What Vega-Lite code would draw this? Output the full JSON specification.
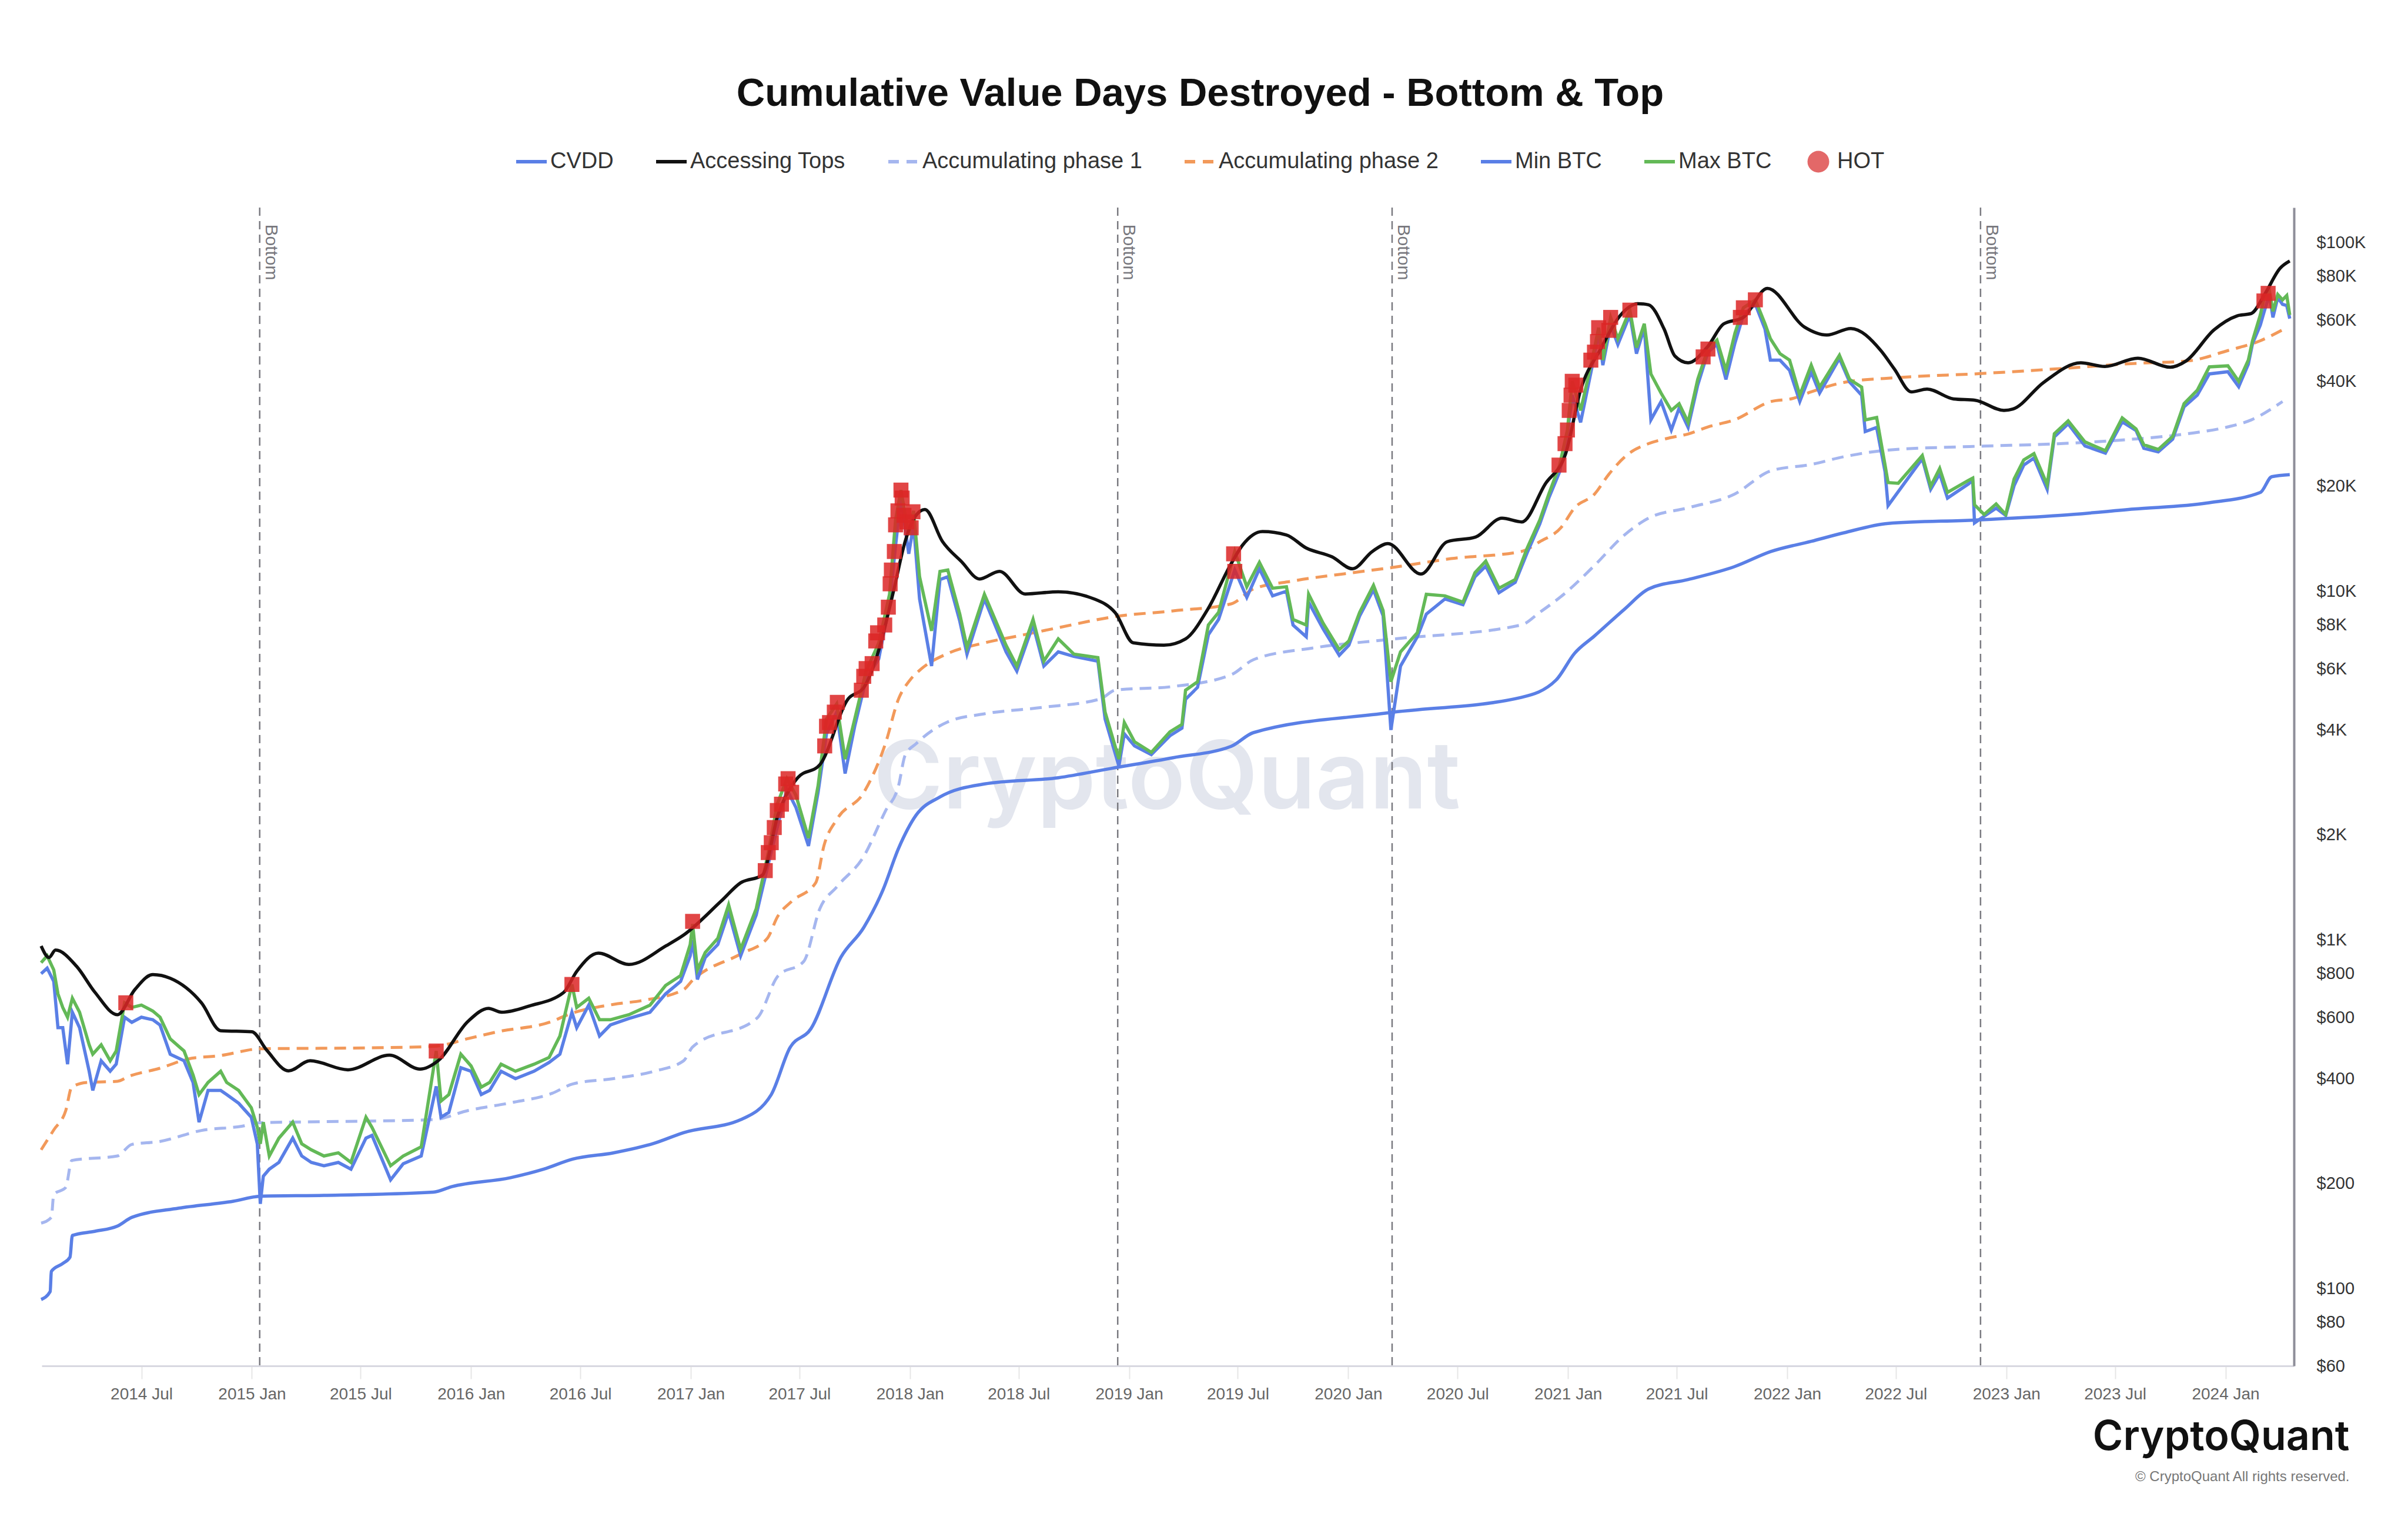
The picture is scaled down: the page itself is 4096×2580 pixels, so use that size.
{
  "$schema": "https://vega.github.io/schema/vega-lite/v6.json",
  "width": 3831,
  "height": 1970,
  "autosize": {"type": "none"},
  "padding": {"left": 71, "top": 353, "right": 194, "bottom": 257},
  "background": "white",
  "title": {
    "text": "Cumulative Value Days Destroyed - Bottom & Top",
    "fontSize": 67,
    "fontWeight": "bold",
    "color": "#111111",
    "anchor": "middle",
    "frame": "bounds",
    "offset": 62
  },
  "datasets": {
    "lines": [
      {"series": "CVDD", "date": "2014-01-15", "value": 93},
      {"series": "CVDD", "date": "2014-01-30", "value": 98},
      {"series": "CVDD", "date": "2014-02-01", "value": 112},
      {"series": "CVDD", "date": "2014-02-20", "value": 118},
      {"series": "CVDD", "date": "2014-03-04", "value": 123},
      {"series": "CVDD", "date": "2014-03-08", "value": 142},
      {"series": "CVDD", "date": "2014-04-15", "value": 146},
      {"series": "CVDD", "date": "2014-05-22", "value": 151},
      {"series": "CVDD", "date": "2014-06-15", "value": 160},
      {"series": "CVDD", "date": "2014-09-01", "value": 170},
      {"series": "CVDD", "date": "2014-12-01", "value": 178},
      {"series": "CVDD", "date": "2015-01-15", "value": 184},
      {"series": "CVDD", "date": "2015-05-01", "value": 185},
      {"series": "CVDD", "date": "2015-10-30", "value": 189},
      {"series": "CVDD", "date": "2015-11-30", "value": 196},
      {"series": "CVDD", "date": "2016-03-07", "value": 208},
      {"series": "CVDD", "date": "2016-05-01", "value": 220},
      {"series": "CVDD", "date": "2016-06-18", "value": 235},
      {"series": "CVDD", "date": "2016-08-25", "value": 245},
      {"series": "CVDD", "date": "2016-11-01", "value": 261},
      {"series": "CVDD", "date": "2016-12-20", "value": 280},
      {"series": "CVDD", "date": "2017-03-25", "value": 305},
      {"series": "CVDD", "date": "2017-05-15", "value": 360},
      {"series": "CVDD", "date": "2017-06-15", "value": 490},
      {"series": "CVDD", "date": "2017-07-20", "value": 556},
      {"series": "CVDD", "date": "2017-09-08", "value": 892},
      {"series": "CVDD", "date": "2017-10-16", "value": 1085},
      {"series": "CVDD", "date": "2017-11-17", "value": 1390},
      {"series": "CVDD", "date": "2017-12-13", "value": 1830},
      {"series": "CVDD", "date": "2018-01-11", "value": 2276},
      {"series": "CVDD", "date": "2018-02-20", "value": 2570},
      {"series": "CVDD", "date": "2018-05-05", "value": 2800},
      {"series": "CVDD", "date": "2018-09-05", "value": 2918},
      {"series": "CVDD", "date": "2018-12-01", "value": 3100},
      {"series": "CVDD", "date": "2019-03-15", "value": 3330},
      {"series": "CVDD", "date": "2019-06-20", "value": 3590},
      {"series": "CVDD", "date": "2019-07-27", "value": 3930},
      {"series": "CVDD", "date": "2020-03-08", "value": 4480},
      {"series": "CVDD", "date": "2020-10-15", "value": 4960},
      {"series": "CVDD", "date": "2020-12-12", "value": 5560},
      {"series": "CVDD", "date": "2021-01-12", "value": 6640},
      {"series": "CVDD", "date": "2021-02-14", "value": 7440},
      {"series": "CVDD", "date": "2021-04-05", "value": 8880},
      {"series": "CVDD", "date": "2021-05-15", "value": 10150},
      {"series": "CVDD", "date": "2021-07-20", "value": 10800},
      {"series": "CVDD", "date": "2021-10-05", "value": 11760},
      {"series": "CVDD", "date": "2021-12-05", "value": 13000},
      {"series": "CVDD", "date": "2022-02-10", "value": 13900},
      {"series": "CVDD", "date": "2022-04-05", "value": 14700},
      {"series": "CVDD", "date": "2022-06-18", "value": 15650},
      {"series": "CVDD", "date": "2022-11-10", "value": 16000},
      {"series": "CVDD", "date": "2023-04-01", "value": 16500},
      {"series": "CVDD", "date": "2023-08-01", "value": 17200},
      {"series": "CVDD", "date": "2023-12-01", "value": 17900},
      {"series": "CVDD", "date": "2024-02-28", "value": 19200},
      {"series": "CVDD", "date": "2024-03-18", "value": 21300},
      {"series": "CVDD", "date": "2024-04-17", "value": 21600},

      {"series": "Accessing Tops", "date": "2014-01-15", "value": 960},
      {"series": "Accessing Tops", "date": "2014-01-28", "value": 890},
      {"series": "Accessing Tops", "date": "2014-02-08", "value": 935},
      {"series": "Accessing Tops", "date": "2014-03-15", "value": 840},
      {"series": "Accessing Tops", "date": "2014-04-15", "value": 706},
      {"series": "Accessing Tops", "date": "2014-05-22", "value": 610},
      {"series": "Accessing Tops", "date": "2014-06-20", "value": 720},
      {"series": "Accessing Tops", "date": "2014-07-20", "value": 795},
      {"series": "Accessing Tops", "date": "2014-08-18", "value": 776},
      {"series": "Accessing Tops", "date": "2014-10-09", "value": 660},
      {"series": "Accessing Tops", "date": "2014-11-10", "value": 549},
      {"series": "Accessing Tops", "date": "2015-01-01", "value": 545},
      {"series": "Accessing Tops", "date": "2015-01-26", "value": 482},
      {"series": "Accessing Tops", "date": "2015-03-03", "value": 421},
      {"series": "Accessing Tops", "date": "2015-04-08", "value": 450},
      {"series": "Accessing Tops", "date": "2015-06-10", "value": 424},
      {"series": "Accessing Tops", "date": "2015-08-18", "value": 467},
      {"series": "Accessing Tops", "date": "2015-10-08", "value": 426},
      {"series": "Accessing Tops", "date": "2015-11-07", "value": 450},
      {"series": "Accessing Tops", "date": "2015-12-27", "value": 584},
      {"series": "Accessing Tops", "date": "2016-01-30", "value": 636},
      {"series": "Accessing Tops", "date": "2016-02-21", "value": 620},
      {"series": "Accessing Tops", "date": "2016-04-08", "value": 647},
      {"series": "Accessing Tops", "date": "2016-06-03", "value": 706},
      {"series": "Accessing Tops", "date": "2016-06-25", "value": 812},
      {"series": "Accessing Tops", "date": "2016-07-31", "value": 916},
      {"series": "Accessing Tops", "date": "2016-09-20", "value": 850},
      {"series": "Accessing Tops", "date": "2016-11-21", "value": 962},
      {"series": "Accessing Tops", "date": "2016-12-20", "value": 1032},
      {"series": "Accessing Tops", "date": "2017-02-20", "value": 1289},
      {"series": "Accessing Tops", "date": "2017-03-25", "value": 1458},
      {"series": "Accessing Tops", "date": "2017-04-30", "value": 1532},
      {"series": "Accessing Tops", "date": "2017-05-26", "value": 2276},
      {"series": "Accessing Tops", "date": "2017-06-28", "value": 2918},
      {"series": "Accessing Tops", "date": "2017-08-04", "value": 3180},
      {"series": "Accessing Tops", "date": "2017-09-20", "value": 4910},
      {"series": "Accessing Tops", "date": "2017-10-16", "value": 5290},
      {"series": "Accessing Tops", "date": "2017-11-10", "value": 6780},
      {"series": "Accessing Tops", "date": "2017-12-05", "value": 10070},
      {"series": "Accessing Tops", "date": "2017-12-24", "value": 13900},
      {"series": "Accessing Tops", "date": "2018-01-11", "value": 16500},
      {"series": "Accessing Tops", "date": "2018-01-26", "value": 17150},
      {"series": "Accessing Tops", "date": "2018-02-24", "value": 13900},
      {"series": "Accessing Tops", "date": "2018-03-28", "value": 12150},
      {"series": "Accessing Tops", "date": "2018-04-27", "value": 10840},
      {"series": "Accessing Tops", "date": "2018-05-30", "value": 11400},
      {"series": "Accessing Tops", "date": "2018-07-12", "value": 9820},
      {"series": "Accessing Tops", "date": "2018-09-05", "value": 9960},
      {"series": "Accessing Tops", "date": "2018-11-06", "value": 9470},
      {"series": "Accessing Tops", "date": "2018-12-09", "value": 8670},
      {"series": "Accessing Tops", "date": "2019-01-08", "value": 7110},
      {"series": "Accessing Tops", "date": "2019-02-28", "value": 7000},
      {"series": "Accessing Tops", "date": "2019-04-05", "value": 7300},
      {"series": "Accessing Tops", "date": "2019-05-12", "value": 8880},
      {"series": "Accessing Tops", "date": "2019-06-20", "value": 12000},
      {"series": "Accessing Tops", "date": "2019-07-09", "value": 13560},
      {"series": "Accessing Tops", "date": "2019-08-11", "value": 14830},
      {"series": "Accessing Tops", "date": "2019-09-20", "value": 14500},
      {"series": "Accessing Tops", "date": "2019-10-23", "value": 13300},
      {"series": "Accessing Tops", "date": "2019-12-05", "value": 12550},
      {"series": "Accessing Tops", "date": "2020-01-08", "value": 11600},
      {"series": "Accessing Tops", "date": "2020-02-10", "value": 13000},
      {"series": "Accessing Tops", "date": "2020-03-07", "value": 13700},
      {"series": "Accessing Tops", "date": "2020-05-01", "value": 11200},
      {"series": "Accessing Tops", "date": "2020-06-14", "value": 13870},
      {"series": "Accessing Tops", "date": "2020-07-31", "value": 14300},
      {"series": "Accessing Tops", "date": "2020-09-13", "value": 16200},
      {"series": "Accessing Tops", "date": "2020-10-16", "value": 15800},
      {"series": "Accessing Tops", "date": "2020-11-24", "value": 20300},
      {"series": "Accessing Tops", "date": "2020-12-28", "value": 24800},
      {"series": "Accessing Tops", "date": "2021-01-22", "value": 37800},
      {"series": "Accessing Tops", "date": "2021-02-24", "value": 49400},
      {"series": "Accessing Tops", "date": "2021-03-29", "value": 61800},
      {"series": "Accessing Tops", "date": "2021-04-27", "value": 66800},
      {"series": "Accessing Tops", "date": "2021-05-15", "value": 66300},
      {"series": "Accessing Tops", "date": "2021-06-10", "value": 56500},
      {"series": "Accessing Tops", "date": "2021-06-28", "value": 47260},
      {"series": "Accessing Tops", "date": "2021-07-20", "value": 45200},
      {"series": "Accessing Tops", "date": "2021-08-22", "value": 50400},
      {"series": "Accessing Tops", "date": "2021-09-17", "value": 58400},
      {"series": "Accessing Tops", "date": "2021-10-20", "value": 61000},
      {"series": "Accessing Tops", "date": "2021-11-29", "value": 73900},
      {"series": "Accessing Tops", "date": "2022-01-30", "value": 57200},
      {"series": "Accessing Tops", "date": "2022-03-08", "value": 54300},
      {"series": "Accessing Tops", "date": "2022-04-17", "value": 56700},
      {"series": "Accessing Tops", "date": "2022-06-06", "value": 49000},
      {"series": "Accessing Tops", "date": "2022-06-28", "value": 43500},
      {"series": "Accessing Tops", "date": "2022-07-27", "value": 37300},
      {"series": "Accessing Tops", "date": "2022-08-22", "value": 38000},
      {"series": "Accessing Tops", "date": "2022-10-05", "value": 35600},
      {"series": "Accessing Tops", "date": "2022-11-10", "value": 35300},
      {"series": "Accessing Tops", "date": "2022-12-28", "value": 33000},
      {"series": "Accessing Tops", "date": "2023-01-12", "value": 33300},
      {"series": "Accessing Tops", "date": "2023-03-04", "value": 39700},
      {"series": "Accessing Tops", "date": "2023-05-05", "value": 45200},
      {"series": "Accessing Tops", "date": "2023-06-14", "value": 44100},
      {"series": "Accessing Tops", "date": "2023-08-08", "value": 46600},
      {"series": "Accessing Tops", "date": "2023-10-01", "value": 43900},
      {"series": "Accessing Tops", "date": "2023-10-27", "value": 45700},
      {"series": "Accessing Tops", "date": "2023-12-13", "value": 56200},
      {"series": "Accessing Tops", "date": "2024-01-20", "value": 61600},
      {"series": "Accessing Tops", "date": "2024-02-13", "value": 62600},
      {"series": "Accessing Tops", "date": "2024-03-07", "value": 71400},
      {"series": "Accessing Tops", "date": "2024-04-01", "value": 84400},
      {"series": "Accessing Tops", "date": "2024-04-17", "value": 88500},

      {"series": "Accumulating phase 1", "date": "2014-01-15", "value": 154},
      {"series": "Accumulating phase 1", "date": "2014-02-01", "value": 160},
      {"series": "Accumulating phase 1", "date": "2014-02-05", "value": 186},
      {"series": "Accumulating phase 1", "date": "2014-02-25", "value": 195},
      {"series": "Accumulating phase 1", "date": "2014-03-07", "value": 233},
      {"series": "Accumulating phase 1", "date": "2014-05-22", "value": 240},
      {"series": "Accumulating phase 1", "date": "2014-06-15", "value": 259},
      {"series": "Accumulating phase 1", "date": "2014-07-31", "value": 264},
      {"series": "Accumulating phase 1", "date": "2014-10-09", "value": 284},
      {"series": "Accumulating phase 1", "date": "2014-12-15", "value": 292},
      {"series": "Accumulating phase 1", "date": "2015-01-15", "value": 299},
      {"series": "Accumulating phase 1", "date": "2015-05-01", "value": 301},
      {"series": "Accumulating phase 1", "date": "2015-10-30", "value": 305},
      {"series": "Accumulating phase 1", "date": "2015-12-27", "value": 324},
      {"series": "Accumulating phase 1", "date": "2016-03-07", "value": 341},
      {"series": "Accumulating phase 1", "date": "2016-05-15", "value": 363},
      {"series": "Accumulating phase 1", "date": "2016-06-18", "value": 386},
      {"series": "Accumulating phase 1", "date": "2016-08-25", "value": 400},
      {"series": "Accumulating phase 1", "date": "2016-11-01", "value": 420},
      {"series": "Accumulating phase 1", "date": "2016-12-20", "value": 450},
      {"series": "Accumulating phase 1", "date": "2017-01-04", "value": 493},
      {"series": "Accumulating phase 1", "date": "2017-04-22", "value": 598},
      {"series": "Accumulating phase 1", "date": "2017-05-26", "value": 787},
      {"series": "Accumulating phase 1", "date": "2017-07-08", "value": 867},
      {"series": "Accumulating phase 1", "date": "2017-08-04", "value": 1230},
      {"series": "Accumulating phase 1", "date": "2017-09-02", "value": 1425},
      {"series": "Accumulating phase 1", "date": "2017-10-16", "value": 1736},
      {"series": "Accumulating phase 1", "date": "2017-11-21", "value": 2340},
      {"series": "Accumulating phase 1", "date": "2017-12-13", "value": 2770},
      {"series": "Accumulating phase 1", "date": "2017-12-24", "value": 3385},
      {"series": "Accumulating phase 1", "date": "2018-01-11", "value": 3650},
      {"series": "Accumulating phase 1", "date": "2018-03-05", "value": 4220},
      {"series": "Accumulating phase 1", "date": "2018-05-05", "value": 4450},
      {"series": "Accumulating phase 1", "date": "2018-08-08", "value": 4640},
      {"series": "Accumulating phase 1", "date": "2018-11-14", "value": 4910},
      {"series": "Accumulating phase 1", "date": "2018-12-09", "value": 5200},
      {"series": "Accumulating phase 1", "date": "2019-03-15", "value": 5330},
      {"series": "Accumulating phase 1", "date": "2019-06-20", "value": 5760},
      {"series": "Accumulating phase 1", "date": "2019-07-27", "value": 6360},
      {"series": "Accumulating phase 1", "date": "2019-11-02", "value": 6870},
      {"series": "Accumulating phase 1", "date": "2020-03-08", "value": 7270},
      {"series": "Accumulating phase 1", "date": "2020-10-15", "value": 8000},
      {"series": "Accumulating phase 1", "date": "2020-11-15", "value": 8700},
      {"series": "Accumulating phase 1", "date": "2020-12-28", "value": 9900},
      {"series": "Accumulating phase 1", "date": "2021-02-14", "value": 11850},
      {"series": "Accumulating phase 1", "date": "2021-04-05", "value": 14500},
      {"series": "Accumulating phase 1", "date": "2021-05-15", "value": 16200},
      {"series": "Accumulating phase 1", "date": "2021-07-20", "value": 17350},
      {"series": "Accumulating phase 1", "date": "2021-10-05", "value": 18980},
      {"series": "Accumulating phase 1", "date": "2021-12-05", "value": 22150},
      {"series": "Accumulating phase 1", "date": "2022-02-10", "value": 23100},
      {"series": "Accumulating phase 1", "date": "2022-04-05", "value": 24300},
      {"series": "Accumulating phase 1", "date": "2022-06-18", "value": 25400},
      {"series": "Accumulating phase 1", "date": "2022-11-01", "value": 26000},
      {"series": "Accumulating phase 1", "date": "2023-04-01", "value": 26500},
      {"series": "Accumulating phase 1", "date": "2023-08-01", "value": 27300},
      {"series": "Accumulating phase 1", "date": "2023-10-30", "value": 28300},
      {"series": "Accumulating phase 1", "date": "2024-01-05", "value": 29600},
      {"series": "Accumulating phase 1", "date": "2024-02-13", "value": 31000},
      {"series": "Accumulating phase 1", "date": "2024-04-05", "value": 35000},

      {"series": "Accumulating phase 2", "date": "2014-01-15", "value": 250},
      {"series": "Accumulating phase 2", "date": "2014-02-05", "value": 285},
      {"series": "Accumulating phase 2", "date": "2014-02-25", "value": 324},
      {"series": "Accumulating phase 2", "date": "2014-03-07", "value": 378},
      {"series": "Accumulating phase 2", "date": "2014-04-01", "value": 390},
      {"series": "Accumulating phase 2", "date": "2014-05-22", "value": 393},
      {"series": "Accumulating phase 2", "date": "2014-06-10", "value": 406},
      {"series": "Accumulating phase 2", "date": "2014-07-31", "value": 428},
      {"series": "Accumulating phase 2", "date": "2014-09-16", "value": 455},
      {"series": "Accumulating phase 2", "date": "2014-11-10", "value": 466},
      {"series": "Accumulating phase 2", "date": "2015-01-15", "value": 487},
      {"series": "Accumulating phase 2", "date": "2015-07-08", "value": 490},
      {"series": "Accumulating phase 2", "date": "2015-11-01", "value": 495},
      {"series": "Accumulating phase 2", "date": "2015-12-27", "value": 521},
      {"series": "Accumulating phase 2", "date": "2016-02-14", "value": 545},
      {"series": "Accumulating phase 2", "date": "2016-05-15", "value": 584},
      {"series": "Accumulating phase 2", "date": "2016-06-10", "value": 610},
      {"series": "Accumulating phase 2", "date": "2016-08-25", "value": 653},
      {"series": "Accumulating phase 2", "date": "2016-10-12", "value": 670},
      {"series": "Accumulating phase 2", "date": "2016-12-20", "value": 720},
      {"series": "Accumulating phase 2", "date": "2017-01-04", "value": 766},
      {"series": "Accumulating phase 2", "date": "2017-03-25", "value": 911},
      {"series": "Accumulating phase 2", "date": "2017-05-08", "value": 1008},
      {"series": "Accumulating phase 2", "date": "2017-05-26", "value": 1170},
      {"series": "Accumulating phase 2", "date": "2017-06-18", "value": 1290},
      {"series": "Accumulating phase 2", "date": "2017-07-28", "value": 1458},
      {"series": "Accumulating phase 2", "date": "2017-08-11", "value": 1869},
      {"series": "Accumulating phase 2", "date": "2017-09-02", "value": 2226},
      {"series": "Accumulating phase 2", "date": "2017-10-16", "value": 2645},
      {"series": "Accumulating phase 2", "date": "2017-11-21", "value": 3650},
      {"series": "Accumulating phase 2", "date": "2017-12-13", "value": 4910},
      {"series": "Accumulating phase 2", "date": "2018-01-01", "value": 5560},
      {"series": "Accumulating phase 2", "date": "2018-01-20", "value": 5990},
      {"series": "Accumulating phase 2", "date": "2018-03-05", "value": 6630},
      {"series": "Accumulating phase 2", "date": "2018-05-05", "value": 7110},
      {"series": "Accumulating phase 2", "date": "2018-07-05", "value": 7470},
      {"series": "Accumulating phase 2", "date": "2018-09-05", "value": 7860},
      {"series": "Accumulating phase 2", "date": "2018-12-09", "value": 8460},
      {"series": "Accumulating phase 2", "date": "2019-03-15", "value": 8780},
      {"series": "Accumulating phase 2", "date": "2019-06-20", "value": 9200},
      {"series": "Accumulating phase 2", "date": "2019-07-27", "value": 10150},
      {"series": "Accumulating phase 2", "date": "2019-10-01", "value": 10700},
      {"series": "Accumulating phase 2", "date": "2020-01-08", "value": 11300},
      {"series": "Accumulating phase 2", "date": "2020-03-15", "value": 11700},
      {"series": "Accumulating phase 2", "date": "2020-06-20", "value": 12400},
      {"series": "Accumulating phase 2", "date": "2020-10-15", "value": 13000},
      {"series": "Accumulating phase 2", "date": "2020-11-15", "value": 13870},
      {"series": "Accumulating phase 2", "date": "2020-12-20", "value": 15200},
      {"series": "Accumulating phase 2", "date": "2021-01-12", "value": 17350},
      {"series": "Accumulating phase 2", "date": "2021-02-14", "value": 18980},
      {"series": "Accumulating phase 2", "date": "2021-03-10", "value": 21650},
      {"series": "Accumulating phase 2", "date": "2021-04-12", "value": 24800},
      {"series": "Accumulating phase 2", "date": "2021-05-15", "value": 26500},
      {"series": "Accumulating phase 2", "date": "2021-06-18", "value": 27500},
      {"series": "Accumulating phase 2", "date": "2021-07-20", "value": 28250},
      {"series": "Accumulating phase 2", "date": "2021-08-22", "value": 29600},
      {"series": "Accumulating phase 2", "date": "2021-10-05", "value": 31000},
      {"series": "Accumulating phase 2", "date": "2021-12-05", "value": 35000},
      {"series": "Accumulating phase 2", "date": "2022-01-10", "value": 35700},
      {"series": "Accumulating phase 2", "date": "2022-02-10", "value": 37300},
      {"series": "Accumulating phase 2", "date": "2022-04-05", "value": 39700},
      {"series": "Accumulating phase 2", "date": "2022-07-05", "value": 41000},
      {"series": "Accumulating phase 2", "date": "2022-11-20", "value": 42100},
      {"series": "Accumulating phase 2", "date": "2023-04-01", "value": 43500},
      {"series": "Accumulating phase 2", "date": "2023-08-01", "value": 45000},
      {"series": "Accumulating phase 2", "date": "2023-11-01", "value": 45800},
      {"series": "Accumulating phase 2", "date": "2024-01-05", "value": 49000},
      {"series": "Accumulating phase 2", "date": "2024-02-28", "value": 52300},
      {"series": "Accumulating phase 2", "date": "2024-04-05", "value": 56200}
    ],
    "price": [
      {"date": "2014-01-15", "Max BTC": 860, "Min BTC": 800},
      {"date": "2014-01-25", "Max BTC": 900, "Min BTC": 830},
      {"date": "2014-02-05", "Max BTC": 820, "Min BTC": 760},
      {"date": "2014-02-12", "Max BTC": 700, "Min BTC": 560},
      {"date": "2014-02-20", "Max BTC": 640, "Min BTC": 560},
      {"date": "2014-02-28", "Max BTC": 600, "Min BTC": 440},
      {"date": "2014-03-08", "Max BTC": 680, "Min BTC": 620},
      {"date": "2014-03-20", "Max BTC": 620, "Min BTC": 560},
      {"date": "2014-04-05", "Max BTC": 500, "Min BTC": 420},
      {"date": "2014-04-11", "Max BTC": 470, "Min BTC": 370},
      {"date": "2014-04-25", "Max BTC": 500, "Min BTC": 450},
      {"date": "2014-05-10", "Max BTC": 450, "Min BTC": 420},
      {"date": "2014-05-20", "Max BTC": 480, "Min BTC": 440},
      {"date": "2014-06-03", "Max BTC": 660, "Min BTC": 600},
      {"date": "2014-06-15", "Max BTC": 640, "Min BTC": 580},
      {"date": "2014-07-01", "Max BTC": 650, "Min BTC": 600},
      {"date": "2014-07-20", "Max BTC": 625, "Min BTC": 590},
      {"date": "2014-08-01", "Max BTC": 600, "Min BTC": 570},
      {"date": "2014-08-18", "Max BTC": 520, "Min BTC": 470},
      {"date": "2014-09-10", "Max BTC": 480, "Min BTC": 450},
      {"date": "2014-09-25", "Max BTC": 410, "Min BTC": 390},
      {"date": "2014-10-05", "Max BTC": 360, "Min BTC": 300},
      {"date": "2014-10-20", "Max BTC": 390, "Min BTC": 370},
      {"date": "2014-11-10", "Max BTC": 420, "Min BTC": 370},
      {"date": "2014-11-20", "Max BTC": 390, "Min BTC": 360},
      {"date": "2014-12-10", "Max BTC": 370, "Min BTC": 340},
      {"date": "2014-12-31", "Max BTC": 330, "Min BTC": 310},
      {"date": "2015-01-10", "Max BTC": 290, "Min BTC": 260},
      {"date": "2015-01-15", "Max BTC": 260, "Min BTC": 175},
      {"date": "2015-01-20", "Max BTC": 300, "Min BTC": 210},
      {"date": "2015-01-30", "Max BTC": 240, "Min BTC": 220},
      {"date": "2015-02-15", "Max BTC": 270, "Min BTC": 230},
      {"date": "2015-03-10", "Max BTC": 300, "Min BTC": 270},
      {"date": "2015-03-25", "Max BTC": 260, "Min BTC": 240},
      {"date": "2015-04-10", "Max BTC": 250, "Min BTC": 230},
      {"date": "2015-05-01", "Max BTC": 240, "Min BTC": 225},
      {"date": "2015-05-25", "Max BTC": 245, "Min BTC": 230},
      {"date": "2015-06-15", "Max BTC": 230, "Min BTC": 220},
      {"date": "2015-07-10", "Max BTC": 310, "Min BTC": 270},
      {"date": "2015-07-20", "Max BTC": 290, "Min BTC": 275},
      {"date": "2015-08-20", "Max BTC": 225, "Min BTC": 205},
      {"date": "2015-09-10", "Max BTC": 240, "Min BTC": 228},
      {"date": "2015-10-10", "Max BTC": 255, "Min BTC": 240},
      {"date": "2015-11-04", "Max BTC": 480, "Min BTC": 380},
      {"date": "2015-11-12", "Max BTC": 345, "Min BTC": 310},
      {"date": "2015-11-25", "Max BTC": 360, "Min BTC": 320},
      {"date": "2015-12-15", "Max BTC": 470, "Min BTC": 430},
      {"date": "2016-01-01", "Max BTC": 435, "Min BTC": 420},
      {"date": "2016-01-18", "Max BTC": 378, "Min BTC": 360},
      {"date": "2016-02-01", "Max BTC": 390, "Min BTC": 370},
      {"date": "2016-02-20", "Max BTC": 440, "Min BTC": 420},
      {"date": "2016-03-15", "Max BTC": 420, "Min BTC": 400},
      {"date": "2016-04-15", "Max BTC": 440, "Min BTC": 420},
      {"date": "2016-05-10", "Max BTC": 460, "Min BTC": 445},
      {"date": "2016-05-28", "Max BTC": 530, "Min BTC": 470},
      {"date": "2016-06-17", "Max BTC": 745, "Min BTC": 620},
      {"date": "2016-06-25", "Max BTC": 640, "Min BTC": 560},
      {"date": "2016-07-15", "Max BTC": 680, "Min BTC": 650},
      {"date": "2016-08-02", "Max BTC": 590, "Min BTC": 530},
      {"date": "2016-08-20", "Max BTC": 590, "Min BTC": 570},
      {"date": "2016-09-20", "Max BTC": 610, "Min BTC": 595},
      {"date": "2016-10-25", "Max BTC": 650, "Min BTC": 620},
      {"date": "2016-11-20", "Max BTC": 740, "Min BTC": 700},
      {"date": "2016-12-15", "Max BTC": 790, "Min BTC": 760},
      {"date": "2016-12-31", "Max BTC": 970, "Min BTC": 900},
      {"date": "2017-01-04", "Max BTC": 1110, "Min BTC": 1000},
      {"date": "2017-01-12", "Max BTC": 820, "Min BTC": 770},
      {"date": "2017-01-25", "Max BTC": 920, "Min BTC": 890},
      {"date": "2017-02-15", "Max BTC": 1010, "Min BTC": 970},
      {"date": "2017-03-05", "Max BTC": 1260, "Min BTC": 1200},
      {"date": "2017-03-25", "Max BTC": 940, "Min BTC": 900},
      {"date": "2017-04-20", "Max BTC": 1230, "Min BTC": 1180},
      {"date": "2017-05-10", "Max BTC": 1780, "Min BTC": 1650},
      {"date": "2017-05-25", "Max BTC": 2450, "Min BTC": 2100},
      {"date": "2017-06-10", "Max BTC": 2900, "Min BTC": 2700},
      {"date": "2017-06-25", "Max BTC": 2600, "Min BTC": 2400},
      {"date": "2017-07-16", "Max BTC": 1960, "Min BTC": 1860},
      {"date": "2017-08-01", "Max BTC": 2770, "Min BTC": 2650},
      {"date": "2017-08-15", "Max BTC": 4300, "Min BTC": 3900},
      {"date": "2017-09-01", "Max BTC": 4750, "Min BTC": 4500},
      {"date": "2017-09-15", "Max BTC": 3300, "Min BTC": 3000},
      {"date": "2017-10-01", "Max BTC": 4300, "Min BTC": 4100},
      {"date": "2017-10-20", "Max BTC": 5900, "Min BTC": 5600},
      {"date": "2017-11-10", "Max BTC": 7100, "Min BTC": 6400},
      {"date": "2017-11-28", "Max BTC": 9800, "Min BTC": 9200},
      {"date": "2017-12-08", "Max BTC": 16000, "Min BTC": 13500},
      {"date": "2017-12-17", "Max BTC": 19500, "Min BTC": 18500},
      {"date": "2017-12-30", "Max BTC": 14500, "Min BTC": 12800},
      {"date": "2018-01-07", "Max BTC": 17000, "Min BTC": 15500},
      {"date": "2018-01-17", "Max BTC": 11000, "Min BTC": 9500},
      {"date": "2018-02-06", "Max BTC": 7700, "Min BTC": 6100},
      {"date": "2018-02-20", "Max BTC": 11400, "Min BTC": 10800},
      {"date": "2018-03-05", "Max BTC": 11500, "Min BTC": 11000},
      {"date": "2018-03-25", "Max BTC": 8600, "Min BTC": 8200},
      {"date": "2018-04-06", "Max BTC": 6900, "Min BTC": 6600},
      {"date": "2018-05-05", "Max BTC": 9800, "Min BTC": 9500},
      {"date": "2018-06-10", "Max BTC": 7000, "Min BTC": 6700},
      {"date": "2018-06-28", "Max BTC": 6100, "Min BTC": 5900},
      {"date": "2018-07-25", "Max BTC": 8300, "Min BTC": 8000},
      {"date": "2018-08-12", "Max BTC": 6300, "Min BTC": 6100},
      {"date": "2018-09-05", "Max BTC": 7300, "Min BTC": 6700},
      {"date": "2018-10-01", "Max BTC": 6600, "Min BTC": 6500},
      {"date": "2018-11-10", "Max BTC": 6450, "Min BTC": 6300},
      {"date": "2018-11-22", "Max BTC": 4500, "Min BTC": 4300},
      {"date": "2018-12-15", "Max BTC": 3300, "Min BTC": 3150},
      {"date": "2018-12-24", "Max BTC": 4200, "Min BTC": 3900},
      {"date": "2019-01-10", "Max BTC": 3700, "Min BTC": 3600},
      {"date": "2019-02-07", "Max BTC": 3450, "Min BTC": 3400},
      {"date": "2019-03-10", "Max BTC": 3950, "Min BTC": 3850},
      {"date": "2019-03-30", "Max BTC": 4150, "Min BTC": 4050},
      {"date": "2019-04-05", "Max BTC": 5200, "Min BTC": 4900},
      {"date": "2019-04-25", "Max BTC": 5500, "Min BTC": 5300},
      {"date": "2019-05-13", "Max BTC": 8000, "Min BTC": 7500},
      {"date": "2019-05-30", "Max BTC": 8700, "Min BTC": 8300},
      {"date": "2019-06-26", "Max BTC": 13000, "Min BTC": 11500},
      {"date": "2019-07-16", "Max BTC": 10300, "Min BTC": 9600},
      {"date": "2019-08-06", "Max BTC": 12100, "Min BTC": 11600},
      {"date": "2019-08-28", "Max BTC": 10200, "Min BTC": 9700},
      {"date": "2019-09-20", "Max BTC": 10300, "Min BTC": 10000},
      {"date": "2019-10-01", "Max BTC": 8300, "Min BTC": 8000},
      {"date": "2019-10-23", "Max BTC": 8000, "Min BTC": 7400},
      {"date": "2019-10-27", "Max BTC": 9800, "Min BTC": 9300},
      {"date": "2019-11-20", "Max BTC": 8100, "Min BTC": 7800},
      {"date": "2019-12-17", "Max BTC": 6800, "Min BTC": 6550},
      {"date": "2020-01-02", "Max BTC": 7200, "Min BTC": 7000},
      {"date": "2020-01-20", "Max BTC": 8700, "Min BTC": 8500},
      {"date": "2020-02-12", "Max BTC": 10400, "Min BTC": 10100},
      {"date": "2020-02-28", "Max BTC": 8800, "Min BTC": 8500},
      {"date": "2020-03-12", "Max BTC": 5500, "Min BTC": 4000},
      {"date": "2020-03-28", "Max BTC": 6700, "Min BTC": 6100},
      {"date": "2020-04-25", "Max BTC": 7600, "Min BTC": 7400},
      {"date": "2020-05-10", "Max BTC": 9800, "Min BTC": 8600},
      {"date": "2020-06-10", "Max BTC": 9700, "Min BTC": 9500},
      {"date": "2020-07-10", "Max BTC": 9300, "Min BTC": 9150},
      {"date": "2020-07-30", "Max BTC": 11300, "Min BTC": 11000},
      {"date": "2020-08-17", "Max BTC": 12200, "Min BTC": 11800},
      {"date": "2020-09-08", "Max BTC": 10200, "Min BTC": 9900},
      {"date": "2020-10-05", "Max BTC": 10800, "Min BTC": 10600},
      {"date": "2020-10-25", "Max BTC": 13300, "Min BTC": 12900},
      {"date": "2020-11-15", "Max BTC": 16000, "Min BTC": 15600},
      {"date": "2020-11-30", "Max BTC": 19000, "Min BTC": 18500},
      {"date": "2020-12-18", "Max BTC": 23000, "Min BTC": 22000},
      {"date": "2020-12-31", "Max BTC": 29000, "Min BTC": 28000},
      {"date": "2021-01-08", "Max BTC": 40000, "Min BTC": 36500},
      {"date": "2021-01-22", "Max BTC": 33000, "Min BTC": 30500},
      {"date": "2021-02-10", "Max BTC": 46000, "Min BTC": 44000},
      {"date": "2021-02-21", "Max BTC": 57000, "Min BTC": 55000},
      {"date": "2021-02-28", "Max BTC": 46000, "Min BTC": 44500},
      {"date": "2021-03-13", "Max BTC": 61000, "Min BTC": 58000},
      {"date": "2021-03-25", "Max BTC": 53000, "Min BTC": 51000},
      {"date": "2021-04-14", "Max BTC": 64000, "Min BTC": 62000},
      {"date": "2021-04-25", "Max BTC": 50000, "Min BTC": 48000},
      {"date": "2021-05-08", "Max BTC": 58500, "Min BTC": 57000},
      {"date": "2021-05-19", "Max BTC": 42000, "Min BTC": 31000},
      {"date": "2021-06-05", "Max BTC": 37000, "Min BTC": 35000},
      {"date": "2021-06-22", "Max BTC": 33000, "Min BTC": 29000},
      {"date": "2021-07-05", "Max BTC": 34500, "Min BTC": 33500},
      {"date": "2021-07-20", "Max BTC": 30500, "Min BTC": 29500},
      {"date": "2021-08-05", "Max BTC": 40500, "Min BTC": 39000},
      {"date": "2021-08-22", "Max BTC": 49500, "Min BTC": 48500},
      {"date": "2021-09-06", "Max BTC": 52500, "Min BTC": 51000},
      {"date": "2021-09-21", "Max BTC": 43000, "Min BTC": 40500},
      {"date": "2021-10-06", "Max BTC": 55000, "Min BTC": 51500},
      {"date": "2021-10-20", "Max BTC": 65000, "Min BTC": 62000},
      {"date": "2021-11-09", "Max BTC": 68500, "Min BTC": 66500},
      {"date": "2021-11-25", "Max BTC": 58500, "Min BTC": 56500},
      {"date": "2021-12-04", "Max BTC": 53000, "Min BTC": 46000},
      {"date": "2021-12-20", "Max BTC": 48000, "Min BTC": 46000},
      {"date": "2022-01-05", "Max BTC": 46000, "Min BTC": 43000},
      {"date": "2022-01-22", "Max BTC": 36500, "Min BTC": 35000},
      {"date": "2022-02-10", "Max BTC": 44500, "Min BTC": 42500},
      {"date": "2022-02-24", "Max BTC": 38500, "Min BTC": 37000},
      {"date": "2022-03-29", "Max BTC": 47500, "Min BTC": 46500},
      {"date": "2022-04-15", "Max BTC": 40500, "Min BTC": 39800},
      {"date": "2022-05-05", "Max BTC": 38500, "Min BTC": 36500},
      {"date": "2022-05-11", "Max BTC": 31000, "Min BTC": 28700},
      {"date": "2022-05-30", "Max BTC": 31500, "Min BTC": 29500},
      {"date": "2022-06-13", "Max BTC": 23000, "Min BTC": 22000},
      {"date": "2022-06-18", "Max BTC": 20500, "Min BTC": 17600},
      {"date": "2022-07-05", "Max BTC": 20400, "Min BTC": 19300},
      {"date": "2022-08-14", "Max BTC": 24500, "Min BTC": 24000},
      {"date": "2022-08-28", "Max BTC": 20000, "Min BTC": 19600},
      {"date": "2022-09-12", "Max BTC": 22500, "Min BTC": 21700},
      {"date": "2022-09-25", "Max BTC": 19200, "Min BTC": 18500},
      {"date": "2022-10-30", "Max BTC": 20800, "Min BTC": 20300},
      {"date": "2022-11-06", "Max BTC": 21100, "Min BTC": 20800},
      {"date": "2022-11-09", "Max BTC": 17700, "Min BTC": 15700},
      {"date": "2022-11-25", "Max BTC": 16600, "Min BTC": 16400},
      {"date": "2022-12-15", "Max BTC": 17800, "Min BTC": 17300},
      {"date": "2022-12-31", "Max BTC": 16600, "Min BTC": 16500},
      {"date": "2023-01-14", "Max BTC": 21000, "Min BTC": 20100},
      {"date": "2023-01-30", "Max BTC": 23800, "Min BTC": 23000},
      {"date": "2023-02-16", "Max BTC": 24800, "Min BTC": 24100},
      {"date": "2023-03-10", "Max BTC": 20200, "Min BTC": 19600},
      {"date": "2023-03-22", "Max BTC": 28300, "Min BTC": 27700},
      {"date": "2023-04-14", "Max BTC": 30800, "Min BTC": 30200},
      {"date": "2023-05-12", "Max BTC": 26800, "Min BTC": 26100},
      {"date": "2023-06-15", "Max BTC": 25300, "Min BTC": 24900},
      {"date": "2023-07-13", "Max BTC": 31400, "Min BTC": 30600},
      {"date": "2023-08-05", "Max BTC": 29200, "Min BTC": 28900},
      {"date": "2023-08-18", "Max BTC": 26300, "Min BTC": 25700},
      {"date": "2023-09-11", "Max BTC": 25500, "Min BTC": 25100},
      {"date": "2023-10-05", "Max BTC": 27800, "Min BTC": 27300},
      {"date": "2023-10-24", "Max BTC": 34500, "Min BTC": 33800},
      {"date": "2023-11-15", "Max BTC": 37700, "Min BTC": 36500},
      {"date": "2023-12-05", "Max BTC": 44000, "Min BTC": 42000},
      {"date": "2024-01-05", "Max BTC": 44300, "Min BTC": 42600},
      {"date": "2024-01-23", "Max BTC": 40000, "Min BTC": 38600},
      {"date": "2024-02-08", "Max BTC": 46000, "Min BTC": 44800},
      {"date": "2024-02-15", "Max BTC": 52300, "Min BTC": 51300},
      {"date": "2024-02-28", "Max BTC": 62000, "Min BTC": 58000},
      {"date": "2024-03-05", "Max BTC": 69000, "Min BTC": 63000},
      {"date": "2024-03-14", "Max BTC": 73000, "Min BTC": 71000},
      {"date": "2024-03-20", "Max BTC": 63500, "Min BTC": 61000},
      {"date": "2024-03-28", "Max BTC": 71000, "Min BTC": 69500},
      {"date": "2024-04-05", "Max BTC": 68500, "Min BTC": 66500},
      {"date": "2024-04-12", "Max BTC": 70500, "Min BTC": 66000},
      {"date": "2024-04-17", "Max BTC": 62000, "Min BTC": 60500}
    ],
    "hot": [
      {"date": "2014-06-05", "value": 660},
      {"date": "2015-11-04", "value": 480},
      {"date": "2016-06-17", "value": 745},
      {"date": "2017-01-04", "value": 1130},
      {"date": "2017-05-05", "value": 1580},
      {"date": "2017-05-10", "value": 1780},
      {"date": "2017-05-15", "value": 1900},
      {"date": "2017-05-20", "value": 2100},
      {"date": "2017-05-25", "value": 2350},
      {"date": "2017-06-01", "value": 2450},
      {"date": "2017-06-08", "value": 2800},
      {"date": "2017-06-12", "value": 2900},
      {"date": "2017-06-18", "value": 2650},
      {"date": "2017-08-12", "value": 3600},
      {"date": "2017-08-15", "value": 4100},
      {"date": "2017-08-20", "value": 4200},
      {"date": "2017-08-28", "value": 4500},
      {"date": "2017-09-02", "value": 4800},
      {"date": "2017-10-12", "value": 5200},
      {"date": "2017-10-16", "value": 5700},
      {"date": "2017-10-20", "value": 6000},
      {"date": "2017-10-30", "value": 6200},
      {"date": "2017-11-05", "value": 7200},
      {"date": "2017-11-08", "value": 7600},
      {"date": "2017-11-20", "value": 8000},
      {"date": "2017-11-26", "value": 9000},
      {"date": "2017-11-29", "value": 10500},
      {"date": "2017-12-01", "value": 11500},
      {"date": "2017-12-06", "value": 13000},
      {"date": "2017-12-08", "value": 15500},
      {"date": "2017-12-12", "value": 17000},
      {"date": "2017-12-17", "value": 19500},
      {"date": "2017-12-19", "value": 18500},
      {"date": "2017-12-22", "value": 16500},
      {"date": "2017-12-27", "value": 15800},
      {"date": "2018-01-03", "value": 15200},
      {"date": "2018-01-06", "value": 16900},
      {"date": "2019-06-24", "value": 12800},
      {"date": "2019-06-26", "value": 11400},
      {"date": "2020-12-17", "value": 23000},
      {"date": "2020-12-27", "value": 26500},
      {"date": "2020-12-31", "value": 29000},
      {"date": "2021-01-03", "value": 33000},
      {"date": "2021-01-06", "value": 36500},
      {"date": "2021-01-08", "value": 40000},
      {"date": "2021-01-14", "value": 39000},
      {"date": "2021-02-08", "value": 46000},
      {"date": "2021-02-14", "value": 48500},
      {"date": "2021-02-19", "value": 52000},
      {"date": "2021-02-21", "value": 57000},
      {"date": "2021-03-10", "value": 56000},
      {"date": "2021-03-13", "value": 61000},
      {"date": "2021-04-14", "value": 64000},
      {"date": "2021-08-14", "value": 47000},
      {"date": "2021-08-22", "value": 49500},
      {"date": "2021-10-15", "value": 61000},
      {"date": "2021-10-20", "value": 65000},
      {"date": "2021-11-09", "value": 68500},
      {"date": "2024-03-05", "value": 68000},
      {"date": "2024-03-12", "value": 71500}
    ],
    "bottoms": [
      {"date": "2015-01-14", "label": "Bottom"},
      {"date": "2018-12-13", "label": "Bottom"},
      {"date": "2020-03-14", "label": "Bottom"},
      {"date": "2022-11-19", "label": "Bottom"}
    ],
    "mark": [
      {"label": "CryptoQuant"}
    ]
  },
  "layer": [
    {
      "data": {"name": "mark"},
      "mark": {"type": "text", "font": "Inter", "fontSize": 160, "fontWeight": 600, "color": "#e3e6ee", "align": "center", "baseline": "middle"},
      "encoding": {
        "x": {"datum": {"year": 2019, "month": 3, "date": 5}, "type": "temporal"},
        "y": {"datum": 2875, "type": "quantitative"},
        "text": {"field": "label"}
      }
    },
    {
      "data": {"name": "bottoms"},
      "mark": {"type": "rule", "color": "#7a7a80", "strokeWidth": 2.5, "strokeDash": [14, 9]},
      "encoding": {
        "x": {"field": "date", "type": "temporal"}
      }
    },
    {
      "data": {"name": "bottoms"},
      "mark": {"type": "text", "angle": 90, "align": "left", "baseline": "bottom", "dy": -4, "fontSize": 30, "color": "#77777d"},
      "encoding": {
        "x": {"field": "date", "type": "temporal"},
        "y": {"datum": 112800, "type": "quantitative"},
        "text": {"field": "label"}
      }
    },
    {
      "data": {"name": "lines"},
      "transform": [{"filter": "datum.series == 'Accumulating phase 1' || datum.series == 'Accumulating phase 2'"}],
      "mark": {"type": "line", "strokeWidth": 5, "strokeDash": [20, 12], "interpolate": "monotone"},
      "encoding": {
        "x": {"field": "date", "type": "temporal"},
        "y": {"field": "value", "type": "quantitative"},
        "color": {
          "field": "series",
          "type": "nominal",
          "scale": {
            "domain": ["CVDD", "Accessing Tops", "Accumulating phase 1", "Accumulating phase 2", "Min BTC", "Max BTC", "HOT"],
            "range": ["#5a7fe6", "#111111", "#a5b6ef", "#f2995a", "#5a7fe6", "#63b957", "#e36868"]
          },
          "legend": {
            "title": null,
            "orient": "none",
            "legendX": 814,
            "legendY": -97,
            "direction": "horizontal",
            "columns": 7,
            "labelFontSize": 38,
            "labelColor": "#333333",
            "labelLimit": 1000,
            "symbolSize": 2704,
            "symbolStrokeWidth": 6,
            "symbolType": "stroke",
            "labelOffset": 13,
            "columnPadding": 60,
            "encode": {
              "symbols": {
                "update": {
                  "shape": {"signal": "datum.value == 'HOT' ? 'circle' : 'stroke'"},
                  "size": {"signal": "datum.value == 'HOT' ? 1369 : 2704"},
                  "fill": {"signal": "datum.value == 'HOT' ? '#e36868' : 'transparent'"},
                  "stroke": {"signal": "datum.value == 'HOT' ? '#e36868' : scale('color', datum.value)"},
                  "strokeWidth": {"signal": "datum.value == 'HOT' ? 0 : 6"},
                  "strokeDash": {"signal": "(datum.value == 'Accumulating phase 1' || datum.value == 'Accumulating phase 2') ? [18, 13] : [1, 0]"},
                  "opacity": {"value": 1}
                }
              }
            }
          }
        }
      }
    },
    {
      "data": {"name": "price"},
      "transform": [{"fold": ["Min BTC"], "as": ["series", "value"]}],
      "mark": {"type": "line", "strokeWidth": 5.5},
      "encoding": {
        "x": {"field": "date", "type": "temporal"},
        "y": {"field": "value", "type": "quantitative"},
        "color": {"field": "series", "type": "nominal"}
      }
    },
    {
      "data": {"name": "price"},
      "transform": [{"fold": ["Max BTC"], "as": ["series", "value"]}],
      "mark": {"type": "line", "strokeWidth": 5.5},
      "encoding": {
        "x": {"field": "date", "type": "temporal"},
        "y": {"field": "value", "type": "quantitative"},
        "color": {"field": "series", "type": "nominal"}
      }
    },
    {
      "data": {"name": "lines"},
      "transform": [{"filter": "datum.series == 'CVDD' || datum.series == 'Accessing Tops'"}],
      "mark": {"type": "line", "strokeWidth": 5.5, "interpolate": "monotone"},
      "encoding": {
        "x": {"field": "date", "type": "temporal"},
        "y": {"field": "value", "type": "quantitative"},
        "color": {"field": "series", "type": "nominal"}
      }
    },
    {
      "data": {"name": "hot"},
      "mark": {"type": "square", "size": 650, "color": "#dc2626", "opacity": 0.85},
      "encoding": {
        "x": {"field": "date", "type": "temporal"},
        "y": {"field": "value", "type": "quantitative"}
      }
    }
  ],
  "encoding": {
    "x": {
      "type": "temporal",
      "scale": {"domain": [{"year": 2014, "month": 1, "date": 16}, {"year": 2024, "month": 4, "date": 24}]},
      "axis": {
        "orient": "bottom",
        "values": [
          {"year": 2014, "month": 7, "date": 1}, {"year": 2015, "month": 1, "date": 1},
          {"year": 2015, "month": 7, "date": 1}, {"year": 2016, "month": 1, "date": 1},
          {"year": 2016, "month": 7, "date": 1}, {"year": 2017, "month": 1, "date": 1},
          {"year": 2017, "month": 7, "date": 1}, {"year": 2018, "month": 1, "date": 1},
          {"year": 2018, "month": 7, "date": 1}, {"year": 2019, "month": 1, "date": 1},
          {"year": 2019, "month": 7, "date": 1}, {"year": 2020, "month": 1, "date": 1},
          {"year": 2020, "month": 7, "date": 1}, {"year": 2021, "month": 1, "date": 1},
          {"year": 2021, "month": 7, "date": 1}, {"year": 2022, "month": 1, "date": 1},
          {"year": 2022, "month": 7, "date": 1}, {"year": 2023, "month": 1, "date": 1},
          {"year": 2023, "month": 7, "date": 1}, {"year": 2024, "month": 1, "date": 1}
        ],
        "format": "%Y %b",
        "labelFontSize": 28,
        "labelColor": "#666666",
        "labelPadding": 12,
        "labelOverlap": false,
        "labelFlush": false,
        "tickSize": 22,
        "tickColor": "#e6e6e6",
        "tickWidth": 2,
        "domainColor": "#d8d8e0",
        "domainWidth": 3,
        "grid": false,
        "title": "CryptoQuant",
        "titleFont": "Inter",
        "titleFontSize": 70,
        "titleFontWeight": 600,
        "titleColor": "#111111",
        "titleX": 3925,
        "titleY": 142,
        "titleAlign": "right",
        "titleBaseline": "alphabetic"
      }
    },
    "y": {
      "type": "quantitative",
      "scale": {"type": "log", "domain": [60, 126000]},
      "axis": {
        "orient": "right",
        "values": [60, 80, 100, 200, 400, 600, 800, 1000, 2000, 4000, 6000, 8000, 10000, 20000, 40000, 60000, 80000, 100000],
        "labelExpr": "'$' + (datum.value >= 1000 ? format(datum.value / 1000, 'd') + 'K' : format(datum.value, 'd'))",
        "labelFontSize": 29,
        "labelColor": "#333333",
        "labelPadding": 38,
        "labelFlush": false,
        "labelOverlap": false,
        "ticks": false,
        "tickSize": 0,
        "grid": false,
        "domainColor": "#8e8e99",
        "domainWidth": 4,
        "title": "© CryptoQuant All rights reserved.",
        "titleAngle": 0,
        "titleX": 94,
        "titleY": 2165,
        "titleAlign": "right",
        "titleBaseline": "alphabetic",
        "titleFontSize": 24,
        "titleFontWeight": "normal",
        "titleColor": "#777777"
      }
    }
  },
  "config": {
    "font": "Liberation Sans",
    "view": {"stroke": null}
  }
}
